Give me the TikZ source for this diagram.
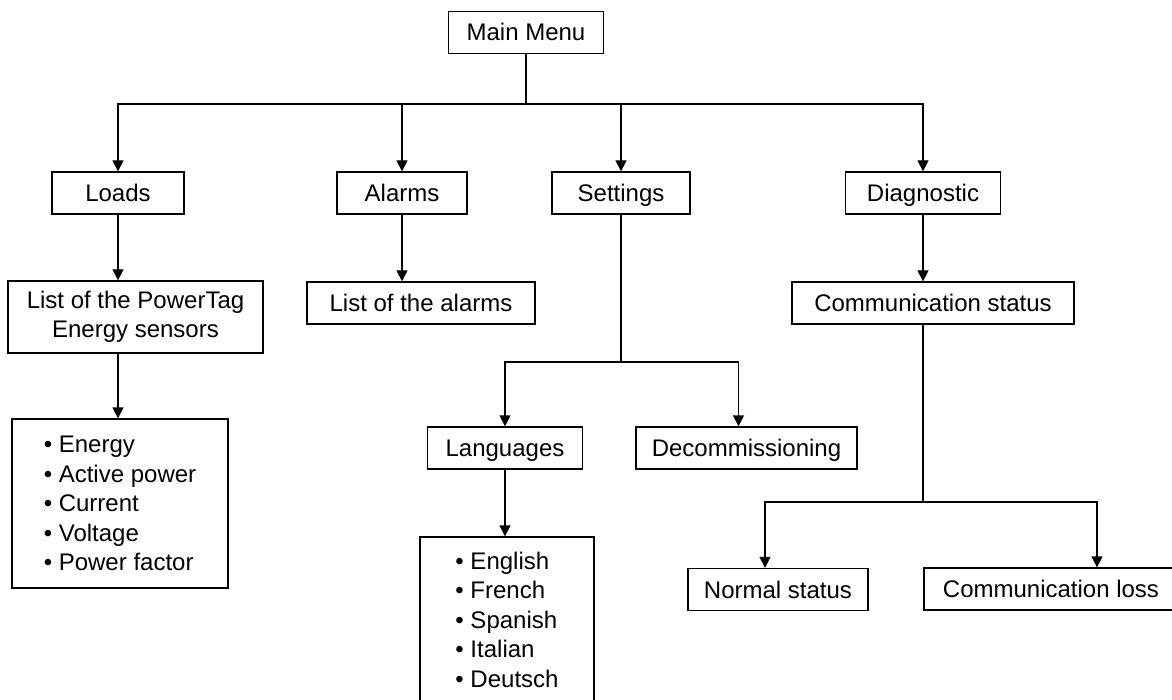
\documentclass[tikz,border=0pt]{standalone}
\usepackage{fontspec}
\setmainfont{Liberation Sans}
\usetikzlibrary{arrows.meta,calc}
\tikzstyle{arrow} = [line width=1.3pt,-{Triangle[width=11pt,length=11pt]}]
\tikzstyle{line} = [line width=1.3pt]
\tikzstyle{tallbox} = [draw,line width=1.3pt,inner sep=0pt,align=center,font=\fontsize{24}{29.5}\selectfont]
\tikzstyle{box} = [tallbox,minimum height=42pt,text height=20pt,text depth=3pt]

\begin{document}
\begin{tikzpicture}[x=1pt,y=-1pt]
\useasboundingbox (0,0) rectangle (1172,700);

 \node [box,minimum width=155pt] (menu) at (526,32.5){Main Menu};

 \node [box,minimum width=132pt] (loads) at (118,193){Loads};
 \node [box,minimum width=130pt] (alarms) at (402,193){Alarms};
 \node [box,minimum width=138pt] (settings) at (621,193){Settings};
 \node [box,minimum width=155pt] (diag) at (923,193){Diagnostic};

 \node [tallbox,minimum width=255pt,minimum height=72pt] (tags) at (135.5,317){List of the PowerTag\\Energy sensors};
 \node [box,minimum width=228pt] (alarmlist) at (421,303){List of the alarms};
 \node [box,minimum width=282pt] (commstat) at (933,303){Communication status};

 \node [tallbox,minimum width=216pt,minimum height=169pt,align=left] (energy) at (120,503.5){• Energy\\• Active power\\• Current\\• Voltage\\• Power factor};
 \node [box,minimum width=155pt] (langs) at (505,448){Languages};
 \node [box,minimum width=221pt] (decomm) at (746.5,448){Decommissioning};
 \node [tallbox,minimum width=174pt,minimum height=165pt,align=left] (langlist) at (507,619.5){• English\\• French\\• Spanish\\• Italian\\• Deutsch};

 \node [box,minimum width=180pt] (normal) at (778,589.5){Normal status};
 \node [box,minimum width=254pt] (commloss) at (1051,589){Communication loss};

 % main menu
 \coordinate (mainbus) at (526,104);
 \draw[line] (menu) -- (mainbus);
 \draw[arrow] (mainbus) -| (loads);
 \draw[arrow] (mainbus) -| (alarms);
 \draw[arrow] (mainbus) -| (settings);
 \draw[arrow] (mainbus) -| (diag);

 % loads and alarms
 \draw[arrow] (loads) -- (loads |- tags.north);
 \draw[arrow] (loads |- tags.south) -- (loads |- energy.north);
 \draw[arrow] (alarms) -- (alarms |- alarmlist.north);

 % settings
 \coordinate (setbus) at (621,362);
 \draw[line] (settings) -- (setbus);
 \draw[arrow] (setbus) -| (langs);
 \draw[arrow] (setbus) -| ([xshift=-8pt]decomm.north);
 \draw[arrow] (langs) -- (langs |- langlist.north);

 % diagnostic
 \draw[arrow] (diag) -- (diag |- commstat.north);
 \coordinate (diagbus) at (923,502);
 \draw[line] (diag |- commstat.south) -- (diagbus);
 \draw[arrow] (diagbus) -| ([xshift=-13pt]normal.north);
 \draw[arrow] (diagbus) -| ([xshift=46pt]commloss.north);
\end{tikzpicture}
\end{document}
